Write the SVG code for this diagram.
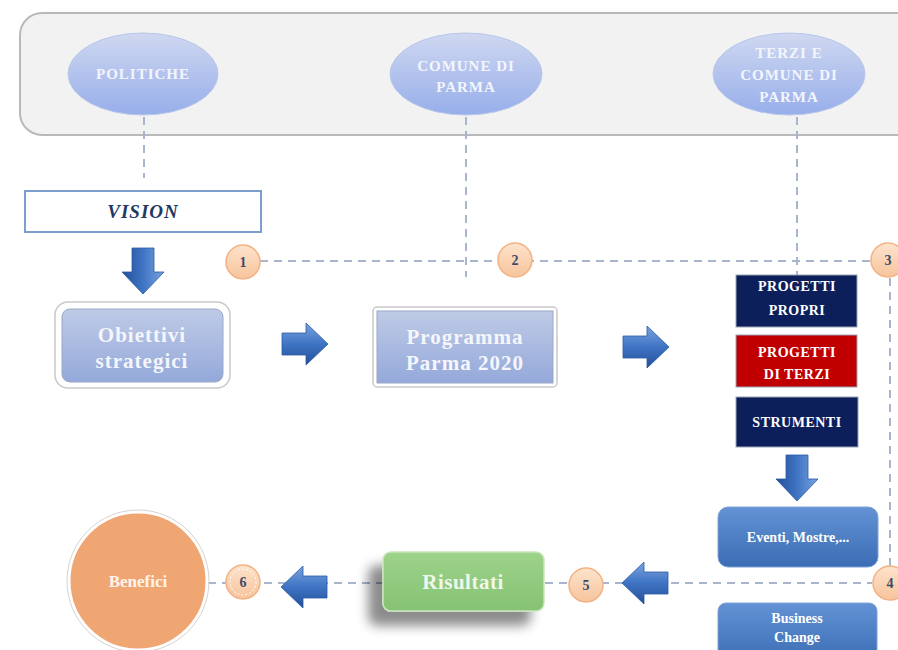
<svg xmlns="http://www.w3.org/2000/svg" width="898" height="650" viewBox="0 0 898 650">
<defs>
<linearGradient id="gEll" x1="0" y1="0" x2="0" y2="1"><stop offset="0" stop-color="#cfd8f1"/><stop offset="1" stop-color="#97aeea"/></linearGradient>
<linearGradient id="gBox" x1="0" y1="0" x2="0" y2="1"><stop offset="0" stop-color="#bfcae6"/><stop offset="1" stop-color="#94a9da"/></linearGradient>
<linearGradient id="gArr" x1="0" y1="0" x2="0" y2="1"><stop offset="0" stop-color="#7aa3de"/><stop offset="0.5" stop-color="#3f74c4"/><stop offset="1" stop-color="#244f99"/></linearGradient>
<linearGradient id="gBadge" x1="0" y1="0" x2="0" y2="1"><stop offset="0" stop-color="#fde3cc"/><stop offset="1" stop-color="#f7c49c"/></linearGradient>
<linearGradient id="gBlue" x1="0" y1="0" x2="0" y2="1"><stop offset="0" stop-color="#6392d4"/><stop offset="1" stop-color="#3b6db5"/></linearGradient>
<linearGradient id="gGreen" x1="0" y1="0" x2="0" y2="1"><stop offset="0" stop-color="#9dd38a"/><stop offset="1" stop-color="#86c273"/></linearGradient>
<filter id="shadow" x="-30%" y="-30%" width="160%" height="180%"><feDropShadow dx="-14" dy="14" stdDeviation="6" flood-color="#000" flood-opacity="0.45"/></filter>
<path id="arrowR" d="M0,-11 H24 V-21 L46,0 L24,21 V11 H0 Z"/>
<style>
.dash{stroke:#a9b5cc;stroke-width:2;stroke-dasharray:8 6;fill:none}
.ell{fill:url(#gEll);stroke:#b8c6ea;stroke-width:1}
.et{font-family:"Liberation Serif",serif;font-weight:bold;font-size:15px;fill:#f3f5fc;text-anchor:middle;letter-spacing:1px}
.arr{fill:url(#gArr);stroke:#2a5aa3;stroke-width:0.8}
.badge{fill:url(#gBadge);stroke:#f3b283;stroke-width:1.5}
.bt{font-family:"Liberation Serif",serif;font-weight:bold;font-size:14px;fill:#3c4a6a;text-anchor:middle}
.big{font-family:"Liberation Serif",serif;font-weight:bold;font-size:21px;fill:#f4f6fb;text-anchor:middle;letter-spacing:1px}
.st{font-family:"Liberation Serif",serif;font-weight:bold;font-size:14px;fill:#ffffff;text-anchor:middle;letter-spacing:0.5px}
.sm{font-family:"Liberation Serif",serif;font-weight:bold;font-size:14px;fill:#ffffff;text-anchor:middle}
</style>
</defs>

<g id="panel">
<rect x="20" y="13" width="910" height="122" rx="22" ry="22" fill="#f2f2f2" stroke="#b9b9b9" stroke-width="2"/>
</g>

<g id="connectors">
<line class="dash" x1="144" y1="117" x2="144" y2="178"/>
<line class="dash" x1="466" y1="117" x2="466" y2="277"/>
<line class="dash" x1="797" y1="117" x2="797" y2="275"/>
<line class="dash" x1="260" y1="261" x2="872" y2="261"/>
<line class="dash" x1="890" y1="278" x2="890" y2="566"/>
<line class="dash" x1="545" y1="583" x2="872" y2="583"/>
<line class="dash" x1="208" y1="583" x2="383" y2="583"/>
</g>

<g id="politiche">
<ellipse class="ell" cx="143" cy="74" rx="75" ry="41"/>
<text class="et" x="143" y="79">POLITICHE</text>
</g>
<g id="comune">
<ellipse class="ell" cx="466" cy="74" rx="76" ry="41"/>
<text class="et" x="466" y="71">COMUNE DI</text>
<text class="et" x="466" y="92">PARMA</text>
</g>
<g id="terzi">
<ellipse class="ell" cx="789" cy="74" rx="76" ry="41"/>
<text class="et" x="789" y="58">TERZI E</text>
<text class="et" x="789" y="80">COMUNE DI</text>
<text class="et" x="789" y="102">PARMA</text>
</g>

<g id="vision">
<rect x="25" y="191" width="236" height="41" fill="#ffffff" stroke="#7d9dcc" stroke-width="2"/>
<text x="143" y="218" font-family="Liberation Serif, serif" font-weight="bold" font-style="italic" font-size="19" fill="#1f3864" text-anchor="middle" letter-spacing="1">VISION</text>
</g>

<g id="arrows">
<use href="#arrowR" class="arr" transform="translate(143,248) rotate(90)"/>
<use href="#arrowR" class="arr" transform="translate(282,344)"/>
<use href="#arrowR" class="arr" transform="translate(623,347)"/>
<use href="#arrowR" class="arr" transform="translate(797,455) rotate(90)"/>
<use href="#arrowR" class="arr" transform="translate(668,583) scale(-1,1)"/>
<use href="#arrowR" class="arr" transform="translate(327,587) scale(-1,1)"/>
</g>

<g id="obiettivi">
<rect x="55" y="302" width="175" height="86" rx="13" fill="#ffffff" stroke="#c9c9c9" stroke-width="1.5"/>
<rect x="62" y="309" width="161" height="73" rx="8" fill="url(#gBox)" stroke="#9aa9c8" stroke-width="1"/>
<text class="big" x="142" y="342">Obiettivi</text>
<text class="big" x="142" y="368">strategici</text>
</g>

<g id="programma">
<rect x="373" y="307" width="184" height="80" rx="4" fill="#ffffff" stroke="#c9c9c9" stroke-width="1.5"/>
<rect x="377" y="311" width="176" height="72" fill="url(#gBox)" stroke="#9aa9c8" stroke-width="1"/>
<text class="big" x="465" y="344">Programma</text>
<text class="big" x="465" y="370">Parma 2020</text>
</g>

<g id="badge1"><circle class="badge" cx="243" cy="262" r="17"/><text class="bt" x="243" y="267">1</text></g>
<g id="badge2"><circle class="badge" cx="515" cy="260" r="17"/><text class="bt" x="515" y="265">2</text></g>
<g id="badge3"><circle class="badge" cx="888" cy="260" r="17"/><text class="bt" x="888" y="265">3</text></g>
<g id="badge4"><circle class="badge" cx="890" cy="583" r="17"/><text class="bt" x="890" y="588">4</text></g>
<g id="badge5"><circle class="badge" cx="586" cy="585" r="17"/><text class="bt" x="586" y="590">5</text></g>
<g id="badge6"><circle class="badge" cx="243" cy="582" r="17"/><circle cx="243" cy="582" r="13" fill="none" stroke="#ffffff" stroke-width="1" stroke-dasharray="2 2"/><text class="bt" x="243" y="587">6</text></g>

<g id="progetti-propri">
<rect x="736" y="275" width="121" height="52" fill="#0c1f5b" stroke="#9aa3b8" stroke-width="1"/>
<text class="st" x="797" y="291">PROGETTI</text>
<text class="st" x="797" y="315">PROPRI</text>
</g>
<g id="progetti-terzi">
<rect x="736" y="335" width="121" height="52" fill="#c00000" stroke="#9aa3b8" stroke-width="1"/>
<text class="st" x="797" y="357">PROGETTI</text>
<text class="st" x="797" y="379">DI TERZI</text>
</g>
<g id="strumenti">
<rect x="736" y="397" width="122" height="50" fill="#0c1f5b" stroke="#9aa3b8" stroke-width="1"/>
<text class="st" x="797" y="427">STRUMENTI</text>
</g>

<g id="eventi">
<rect x="718" y="507" width="160" height="60" rx="10" fill="url(#gBlue)" stroke="#7fa2d6" stroke-width="1"/>
<text class="sm" x="798" y="542">Eventi, Mostre,...</text>
</g>
<g id="business">
<rect x="718" y="603" width="159" height="60" rx="8" fill="url(#gBlue)" stroke="#7fa2d6" stroke-width="1"/>
<text class="sm" x="797" y="623">Business</text>
<text class="sm" x="797" y="642">Change</text>
</g>

<g id="risultati">
<rect x="383" y="552" width="161" height="59" rx="8" fill="url(#gGreen)" stroke="#c9e6bd" stroke-width="1.5" filter="url(#shadow)"/>
<text x="463" y="589" font-family="Liberation Serif, serif" font-weight="bold" font-size="21" fill="#eef7ea" text-anchor="middle" letter-spacing="0.5">Risultati</text>
</g>

<g id="benefici">
<circle cx="138" cy="581" r="69" fill="#f0a672" stroke="#ffffff" stroke-width="3"/>
<circle cx="138" cy="581" r="71" fill="none" stroke="#d9d2cc" stroke-width="1"/>
<text x="138" y="587" font-family="Liberation Serif, serif" font-weight="bold" font-size="17" fill="#fff4ec" text-anchor="middle">Benefici</text>
</g>
</svg>
